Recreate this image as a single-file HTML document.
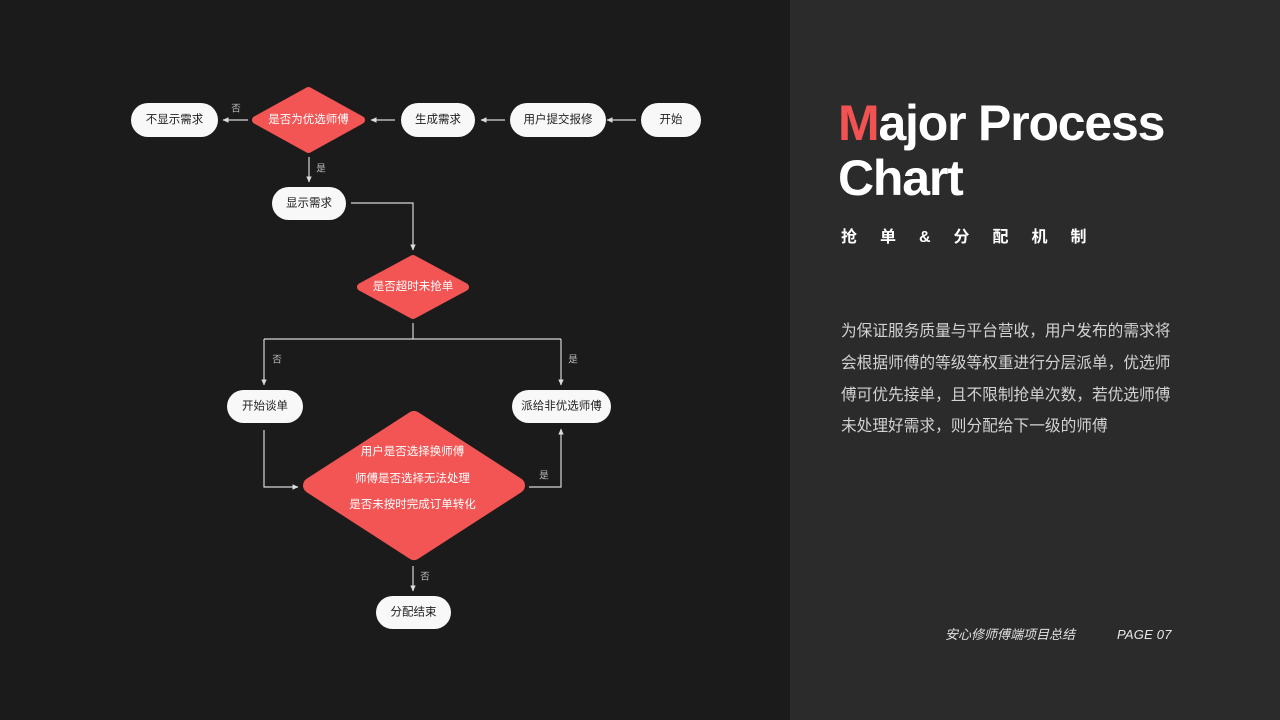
<!DOCTYPE html>
<html>
<head>
<meta charset="utf-8">
<style>
  html,body{margin:0;padding:0;}
  body{width:1280px;height:720px;overflow:hidden;position:relative;background:#1b1b1b;font-family:"Liberation Sans","Noto Sans CJK SC",sans-serif;}
  #left{position:absolute;left:0;top:0;width:790px;height:720px;background:#1b1b1b;}
  #right{position:absolute;left:790px;top:0;width:490px;height:720px;background:#2b2b2b;}
  .title{position:absolute;left:838px;top:96px;font-family:"Liberation Sans",sans-serif;font-weight:bold;font-size:50px;line-height:55px;color:#ffffff;letter-spacing:-1.2px;white-space:nowrap;}
  .title .m{color:#f25252;}
  .sub{position:absolute;left:841px;top:227px;font-family:"Liberation Sans","Noto Sans CJK SC",sans-serif;font-weight:bold;font-size:16px;line-height:22px;color:#ffffff;letter-spacing:23px;white-space:nowrap;}
  .para{position:absolute;left:841px;top:316px;font-family:"Liberation Sans","Noto Sans CJK SC",sans-serif;font-size:15.7px;line-height:31.8px;color:#d2d2d2;white-space:nowrap;}
  .foot1{position:absolute;left:945px;top:626px;font-family:"Liberation Sans","Noto Sans CJK SC",sans-serif;font-size:13px;line-height:18px;color:#e0e0e0;font-style:italic;white-space:nowrap;}
  .foot2{position:absolute;left:1117px;top:626px;font-family:"Liberation Sans",sans-serif;font-size:13px;line-height:18px;color:#e8e8e8;font-style:italic;white-space:nowrap;letter-spacing:0.2px;}
  svg{position:absolute;left:0;top:0;}
</style>
</head>
<body>
<div id="left"></div>
<div id="right"></div>

<svg width="790" height="720" viewBox="0 0 790 720" xmlns="http://www.w3.org/2000/svg">
  <defs>
    <marker id="ah" markerUnits="userSpaceOnUse" markerWidth="6" markerHeight="6" refX="5.5" refY="3" orient="auto">
      <path d="M0,0.3 L6,3 L0,5.7 z" fill="#dcdcdc"/>
    </marker>
  </defs>

  <g stroke="#d6d6d6" stroke-width="1.2" fill="none">
    <line x1="636" y1="120" x2="607" y2="120" marker-end="url(#ah)"/>
    <line x1="505" y1="120" x2="481" y2="120" marker-end="url(#ah)"/>
    <line x1="395" y1="120" x2="371" y2="120" marker-end="url(#ah)"/>
    <line x1="248" y1="120" x2="223" y2="120" marker-end="url(#ah)"/>
    <line x1="309" y1="157" x2="309" y2="182" marker-end="url(#ah)"/>
    <polyline points="351,203 413,203 413,250" marker-end="url(#ah)"/>
    <line x1="413" y1="323" x2="413" y2="339"/>
    <line x1="264" y1="339" x2="561" y2="339"/>
    <line x1="264" y1="339" x2="264" y2="385" marker-end="url(#ah)"/>
    <line x1="561" y1="339" x2="561" y2="385" marker-end="url(#ah)"/>
    <polyline points="264,430 264,487 298,487" marker-end="url(#ah)"/>
    <polyline points="529,487 561,487 561,429" marker-end="url(#ah)"/>
    <line x1="413" y1="566" x2="413" y2="591" marker-end="url(#ah)"/>
  </g>

  <g fill="#f8f8f8">
    <rect x="131" y="103" width="87" height="34" rx="17"/>
    <rect x="401" y="103" width="74" height="34" rx="17"/>
    <rect x="510" y="103" width="96" height="34" rx="17"/>
    <rect x="641" y="103" width="60" height="34" rx="17"/>
    <rect x="272" y="187" width="74" height="33" rx="16.5"/>
    <rect x="227" y="390" width="76" height="33" rx="16.5"/>
    <rect x="512" y="390" width="99" height="33" rx="16.5"/>
    <rect x="376" y="596" width="75" height="33" rx="16.5"/>
  </g>

  <g fill="#f35454" stroke="#f35454" stroke-linejoin="round">
    <polygon stroke-width="8" points="256,120 308.5,91 361,120 308.5,149"/>
    <polygon stroke-width="8" points="361,287 413,259 465,287 413,315"/>
    <polygon stroke-width="16" points="311,485.5 414,419 517,485.5 414,552"/>
  </g>

  <g font-family="Liberation Sans, Noto Sans CJK SC, sans-serif" font-size="11.5" fill="#1e1e1e" text-anchor="middle" dominant-baseline="central">
    <text x="174.5" y="120">不显示需求</text>
    <text x="438" y="120">生成需求</text>
    <text x="558" y="120">用户提交报修</text>
    <text x="671" y="120">开始</text>
    <text x="309" y="203.5">显示需求</text>
    <text x="265" y="406.5">开始谈单</text>
    <text x="561.5" y="406.5">派给非优选师傅</text>
    <text x="413.5" y="612.5">分配结束</text>
  </g>

  <g font-family="Liberation Sans, Noto Sans CJK SC, sans-serif" font-size="11.5" fill="#ffffff" text-anchor="middle" dominant-baseline="central">
    <text x="308.5" y="120">是否为优选师傅</text>
    <text x="413" y="287">是否超时未抢单</text>
    <text x="412.5" y="452">用户是否选择换师傅</text>
    <text x="412.5" y="479">师傅是否选择无法处理</text>
    <text x="412.5" y="505">是否未按时完成订单转化</text>
  </g>

  <g font-family="Liberation Sans, Noto Sans CJK SC, sans-serif" font-size="9.5" fill="#bdbdbd" text-anchor="middle" dominant-baseline="central">
    <text x="236" y="109">否</text>
    <text x="321" y="169">是</text>
    <text x="277" y="360">否</text>
    <text x="573" y="360">是</text>
    <text x="544" y="476">是</text>
    <text x="425" y="577">否</text>
  </g>
</svg>

<div class="title"><span class="m">M</span>ajor Process<br>Chart</div>
<div class="sub">抢单&amp;分配机制</div>
<div class="para">为保证服务质量与平台营收，用户发布的需求将<br>会根据师傅的等级等权重进行分层派单，优选师<br>傅可优先接单，且不限制抢单次数，若优选师傅<br>未处理好需求，则分配给下一级的师傅</div>
<div class="foot1">安心修师傅端项目总结</div>
<div class="foot2">PAGE 07</div>
</body>
</html>
